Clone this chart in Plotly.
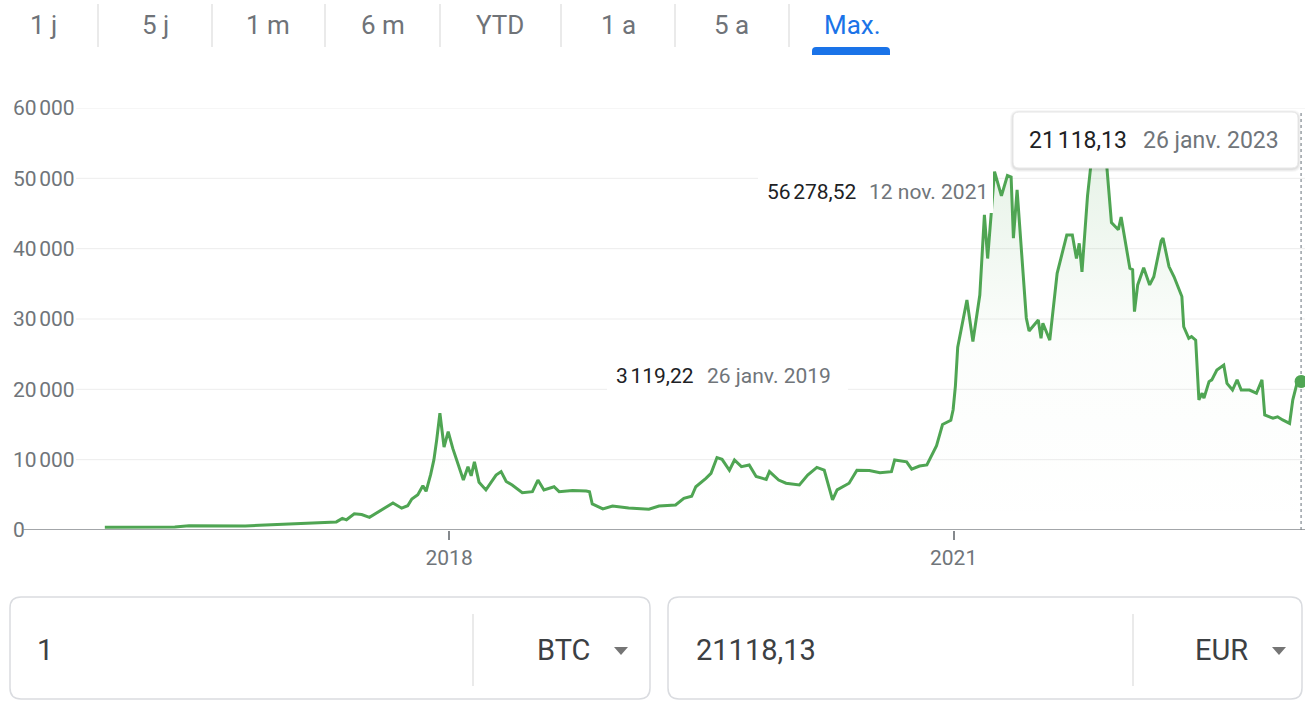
import plotly.graph_objects as go

# BTC / EUR closing prices
dates = [
    "2015-12-15", "2016-01-15", "2016-02-15", "2016-03-15", "2016-04-15", "2016-05-15",
    "2016-06-15", "2016-07-15", "2016-08-15", "2016-09-15", "2016-10-15", "2016-11-15",
    "2016-12-15", "2017-01-15", "2017-02-15", "2017-03-10", "2017-04-01", "2017-05-01",
    "2017-05-14", "2017-05-23", "2017-06-09", "2017-06-25", "2017-07-12", "2017-07-27",
    "2017-08-12", "2017-09-01", "2017-09-20", "2017-10-03", "2017-10-12", "2017-10-25",
    "2017-11-05", "2017-11-12", "2017-11-22", "2017-11-29", "2017-12-05", "2017-12-12",
    "2017-12-21", "2017-12-30", "2018-01-09", "2018-01-20", "2018-02-01", "2018-02-11",
    "2018-02-18", "2018-02-25", "2018-03-07", "2018-03-22", "2018-04-13", "2018-04-24",
    "2018-05-05", "2018-05-18", "2018-06-09", "2018-07-01", "2018-07-13", "2018-07-26",
    "2018-08-17", "2018-08-28", "2018-09-26", "2018-10-26", "2018-11-02", "2018-11-08",
    "2018-12-01", "2018-12-22", "2019-01-26", "2019-03-11", "2019-04-02", "2019-05-08",
    "2019-05-26", "2019-06-12", "2019-06-21", "2019-07-13", "2019-07-24", "2019-08-06",
    "2019-08-17", "2019-09-02", "2019-09-13", "2019-09-28", "2019-10-15", "2019-10-30",
    "2019-11-21", "2019-11-28", "2019-12-18", "2020-01-03", "2020-02-01", "2020-02-19",
    "2020-03-10", "2020-03-26", "2020-04-13", "2020-04-23", "2020-05-19", "2020-06-05",
    "2020-07-02", "2020-07-25", "2020-08-19", "2020-08-26", "2020-09-21", "2020-10-02",
    "2020-10-19", "2020-11-04", "2020-11-25", "2020-12-08", "2020-12-16", "2020-12-26",
    "2020-12-31", "2021-01-05", "2021-01-10", "2021-01-30", "2021-02-12", "2021-02-27",
    "2021-03-09", "2021-03-16", "2021-03-31", "2021-04-15", "2021-04-28", "2021-05-06",
    "2021-05-11", "2021-05-19", "2021-06-08", "2021-06-14", "2021-07-04", "2021-07-10",
    "2021-07-14", "2021-07-29", "2021-08-14", "2021-09-04", "2021-09-16", "2021-09-25",
    "2021-10-01", "2021-10-07", "2021-10-19", "2021-10-28", "2021-11-12", "2021-11-30",
    "2021-12-10", "2021-12-25", "2021-12-31", "2022-01-19", "2022-01-25", "2022-01-29",
    "2022-02-05", "2022-02-18", "2022-03-03", "2022-03-12", "2022-03-28", "2022-04-01",
    "2022-04-14", "2022-04-25", "2022-05-12", "2022-05-16", "2022-05-27", "2022-06-02",
    "2022-06-11", "2022-06-18", "2022-06-25", "2022-06-29", "2022-07-10", "2022-07-16",
    "2022-07-27", "2022-08-05", "2022-08-11", "2022-08-18", "2022-08-30", "2022-09-09",
    "2022-09-18", "2022-10-06", "2022-10-21", "2022-11-02", "2022-11-08", "2022-11-26",
    "2022-12-06", "2022-12-17", "2023-01-01", "2023-01-08", "2023-01-18", "2023-01-26",
]
prices = [
    400, 390, 370, 375, 390, 420,
    610, 590, 520, 540, 580, 670,
    760, 850, 950, 960, 1050, 1150,
    1650, 1450, 2300, 2200, 1800, 2400,
    3150, 3850, 3100, 3450, 4400, 5000,
    6300, 5500, 7900, 10000, 12800, 16600,
    11800, 14000, 11600, 9500, 7100, 9000,
    7700, 9700, 6800, 5700, 7800, 8300,
    6900, 6400, 5300, 5450, 7100, 5700,
    6150, 5450, 5600, 5550, 5450, 3700,
    3000, 3400, 3119.22, 2950, 3400, 3550,
    4500, 4800, 6150, 7350, 8050, 10300,
    10050, 8500, 9950, 9000, 9250, 7600,
    7200, 8300, 7100, 6650, 6400, 7800,
    8900, 8500, 4270, 5700, 6650, 8500,
    8450, 8150, 8300, 9950, 9700, 8650,
    9100, 9250, 12000, 15000, 15300, 15600,
    17100, 20500, 26000, 32700, 26800, 33400,
    44800, 38600, 50950, 47500, 50400, 50200,
    41500, 48350, 30150, 28300, 29850, 27250,
    29400, 27000, 36500, 41950, 41950, 38600,
    40750, 36700, 47500, 52900, 56278.52, 51600,
    43700, 42700, 44500, 37200, 37000, 31050,
    34850, 37300, 34850, 36000, 41100, 41500,
    37450, 36000, 33200, 28900, 27250, 27500,
    27000, 18500, 19450, 18750, 21100, 21350,
    22750, 23200, 23450, 20850, 19900, 21350,
    19900, 19900, 19450, 21350, 16350, 15900,
    16100, 15650, 15150, 18500, 21100, 21118.13,
]

y_ticks = [0, 10000, 20000, 30000, 40000, 50000, 60000]
y_tick_text = ["0", "10\u202f000", "20\u202f000", "30\u202f000", "40\u202f000", "50\u202f000", "60\u202f000"]
x_ticks = ["2018-01-01", "2021-01-01"]
x_tick_text = ["2018", "2021"]
tabs = ["1 j", "5 j", "1 m", "6 m", "YTD", "1 a", "5 a", "Max."]
marked_dates = ["2021-11-12", "2019-01-26"]
base_amount = "1"
base_currency = "BTC"
quote_currency = "EUR"

MONTHS_FR = ["janv.", "févr.", "mars", "avr.", "mai", "juin",
             "juil.", "août", "sept.", "oct.", "nov.", "déc."]


def fmt_price(v, sep="\u202f"):
    s = f"{v:,.2f}"
    return s.replace(",", "X").replace(".", ",").replace("X", sep)


def fmt_date(d):
    y, m, dd = d.split("-")
    return f"{int(dd)} {MONTHS_FR[int(m) - 1]} {y}"


GREEN = "#4fa553"
DARK = "#202124"
GREY = "#70757a"
FONT = "Roboto"

# page geometry (pixels) of the plotting area
L, R, T, B = 10, 1305, 108, 530


def px(x):
    return (x - L) / (R - L)


def py(y):
    return (B - y) / (B - T)


def rrect(x0, y0, x1, y1, r, top_only=False):
    rb = 0 if top_only else r
    pts = [
        f"M{px(x0 + r)},{py(y0)}",
        f"L{px(x1 - r)},{py(y0)}",
        f"Q{px(x1)},{py(y0)} {px(x1)},{py(y0 + r)}",
        f"L{px(x1)},{py(y1 - rb)}",
        f"Q{px(x1)},{py(y1)} {px(x1 - rb)},{py(y1)}",
        f"L{px(x0 + rb)},{py(y1)}",
        f"Q{px(x0)},{py(y1)} {px(x0)},{py(y1 - rb)}",
        f"L{px(x0)},{py(y0 + r)}",
        f"Q{px(x0)},{py(y0)} {px(x0 + r)},{py(y0)}",
        "Z",
    ]
    return " ".join(pts)


fig = go.Figure()

fig.add_trace(go.Scatter(
    x=dates, y=prices, mode="lines",
    line=dict(color=GREEN, width=3),
    fill="tozeroy",
    fillgradient=dict(
        type="vertical", start=0, stop=60000,
        colorscale=[[0, "rgba(79,165,83,0)"], [0.45, "rgba(79,165,83,0.02)"],
                    [1, "rgba(79,165,83,0.17)"]],
    ),
    hoverinfo="skip",
))
fig.add_trace(go.Scatter(
    x=[dates[-1]], y=[prices[-1]], mode="markers",
    marker=dict(color=GREEN, size=13),
    cliponaxis=False, hoverinfo="skip",
))

shapes = []
annotations = []

# horizontal grid
for v in y_ticks[1:]:
    shapes.append(dict(type="line", xref="paper", yref="y", x0=px(76), x1=1, y0=v, y1=v,
                       line=dict(color="#ededed", width=1), layer="below"))
# baseline
shapes.append(dict(type="line", xref="paper", yref="y", x0=px(22), x1=1, y0=0, y1=0,
                   line=dict(color="#85898d", width=1.6), layer="above"))
# hover guide on the last close
shapes.append(dict(type="line", xref="x", yref="paper", x0=dates[-1], x1=dates[-1],
                   y0=0, y1=py(112), line=dict(color="#9aa0a6", width=1.5, dash="dot"),
                   layer="below"))

# labels for highlighted closes
max_date, min_date = marked_dates
max_val = prices[dates.index(max_date)]
min_val = prices[dates.index(min_date)]

shapes.append(dict(type="rect", xref="paper", yref="paper", x0=px(758), x1=px(993),
                   y0=py(213), y1=py(170), fillcolor="white", line=dict(width=0), layer="above"))
shapes.append(dict(type="rect", xref="paper", yref="paper", x0=px(607), x1=px(848),
                   y0=py(393), y1=py(358), fillcolor="white", line=dict(width=0), layer="above"))


def label(x, y, text, color, size):
    annotations.append(dict(xref="paper", yref="paper", x=px(x), y=py(y), text=text,
                            showarrow=False, xanchor="left", yanchor="middle",
                            font=dict(family=FONT, size=size, color=color)))


label(765, 192, fmt_price(max_val), DARK, 21)
label(867, 192, fmt_date(max_date), GREY, 21)
label(614, 376, fmt_price(min_val), DARK, 21)
label(705, 376, fmt_date(min_date), GREY, 21)

# tooltip for the last close
for i, a in enumerate([0.05, 0.04, 0.03]):
    d = i + 1
    shapes.append(dict(type="path", xref="paper", yref="paper",
                       path=rrect(1013 - d, 112 - d + 1, 1298 + d, 168 + d + 1, 6 + d),
                       fillcolor=f"rgba(0,0,0,{a})", line=dict(width=0), layer="above"))
shapes.append(dict(type="path", xref="paper", yref="paper", path=rrect(1013, 112, 1298, 168, 6),
                   fillcolor="white", line=dict(color="#e6e6e6", width=1), layer="above"))
label(1027, 140, fmt_price(prices[-1]), DARK, 23)
label(1141, 140, fmt_date(dates[-1]), GREY, 23)

# range tabs
tab_x = [43, 155, 268, 383, 500, 618, 731, 852]
sep_x = [98, 212, 325, 440, 561, 675, 789]
for name, cx in zip(tabs, tab_x):
    active = name == tabs[-1]
    annotations.append(dict(xref="paper", yref="paper", x=px(cx), y=py(25), text=name,
                            showarrow=False, xanchor="center", yanchor="middle",
                            font=dict(family=FONT, size=26, color="#1a73e8" if active else "#6f7378")))
for sx in sep_x:
    shapes.append(dict(type="line", xref="paper", yref="paper", x0=px(sx), x1=px(sx),
                       y0=py(4), y1=py(47), line=dict(color="#e3e3e3", width=1.5)))
shapes.append(dict(type="path", xref="paper", yref="paper", path=rrect(812, 47, 890, 55, 4, top_only=True),
                   fillcolor="#1a73e8", line=dict(width=0)))

# converter boxes
for x0, x1, sx in [(10, 650, 473), (668, 1302, 1133)]:
    shapes.append(dict(type="path", xref="paper", yref="paper", path=rrect(x0, 597, x1, 699, 11),
                       fillcolor="white", line=dict(color="#dadce0", width=1.5)))
    shapes.append(dict(type="line", xref="paper", yref="paper", x0=px(sx), x1=px(sx),
                       y0=py(614), y1=py(686), line=dict(color="#e3e3e3", width=1.5)))
for ax in [621, 1279]:
    shapes.append(dict(type="path", xref="paper", yref="paper",
                       path=f"M{px(ax - 7)},{py(647)} L{px(ax + 7)},{py(647)} L{px(ax)},{py(655)} Z",
                       fillcolor="#757575", line=dict(width=0)))


def box_text(x, text, anchor):
    annotations.append(dict(xref="paper", yref="paper", x=px(x), y=py(650), text=text,
                            showarrow=False, xanchor=anchor, yanchor="middle",
                            font=dict(family=FONT, size=29, color="#3c4043")))


box_text(35, base_amount, "left")
box_text(592, base_currency, "right")
box_text(694, fmt_price(prices[-1], sep=""), "left")
box_text(1250, quote_currency, "right")

fig.update_layout(
    width=1305, height=701,
    margin=dict(l=L, r=1305 - R, t=T, b=701 - B),
    paper_bgcolor="white", plot_bgcolor="white",
    showlegend=False, hovermode=False,
    font=dict(family=FONT),
    shapes=shapes, annotations=annotations,
    xaxis=dict(
        type="date", range=["2015-05-23", "2023-02-03 12:00"],
        tickvals=x_ticks, ticktext=x_tick_text,
        ticks="outside", ticklen=9, tickwidth=1.5, tickcolor="#85898d",
        tickfont=dict(family=FONT, size=21, color=GREY),
        showgrid=False, zeroline=False, showline=False, fixedrange=True,
    ),
    yaxis=dict(
        range=[0, 60000], tickvals=y_ticks, ticktext=y_tick_text,
        ticklabelposition="inside", ticklabeloverflow="allow",
        tickfont=dict(family=FONT, size=21, color=GREY),
        showgrid=False, zeroline=False, showline=False, fixedrange=True,
    ),
)

fig.write_html("out.html")
